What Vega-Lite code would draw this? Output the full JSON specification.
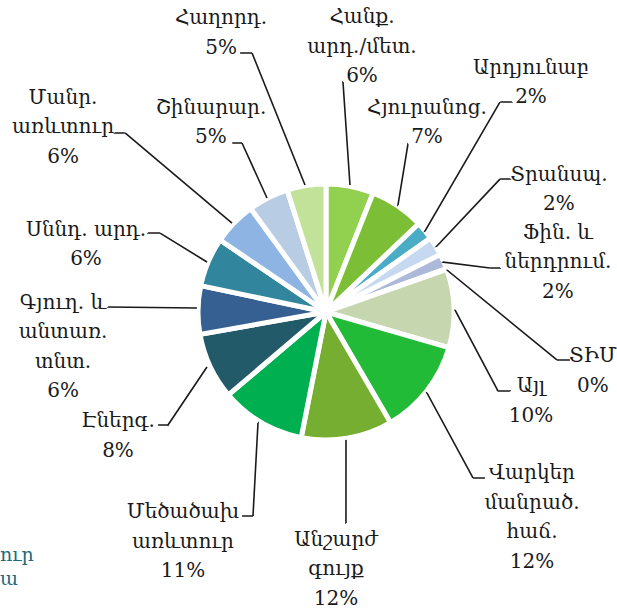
{
  "$schema": "https://vega.github.io/schema/vega-lite/v6.json",
  "width": 582,
  "height": 594,
  "autosize": {"type": "none"},
  "padding": {"left": 35, "top": 15, "right": 0, "bottom": 0},
  "background": "#ffffff",
  "title": {"text": ["ուր", "ա"], "orient": "bottom", "anchor": "start", "frame": "group", "align": "left", "baseline": "alphabetic", "offset": 0, "dx": -35, "dy": -48, "color": "#226a7b", "font": "DejaVu Serif", "fontSize": 19, "fontWeight": "normal", "lineHeight": 24},
  "config": {
    "view": {"stroke": null},
    "text": {"font": "DejaVu Serif", "fontSize": 20, "align": "center", "baseline": "alphabetic", "lineBreak": "\n", "lineHeight": 29.5, "fill": "#1a1a1a"}
  },
  "data": {
    "values": [
      {"k": 1, "cat": "Հանք. արդ./մետ.", "label": "Հանք.\nարդ./մետ.\n6%", "value": 6.0},
      {"k": 2, "cat": "Հյուրանոց.", "label": "Հյուրանոց.\n7%", "value": 6.9},
      {"k": 3, "cat": "Արդյունաբ", "label": "Արդյունաբ\n2%", "value": 2.3},
      {"k": 4, "cat": "Տրանսպ.", "label": "Տրանսպ.\n2%", "value": 2.4},
      {"k": 5, "cat": "Ֆին. և ներդրում.", "label": "Ֆին. և\nներդրում.\n2%", "value": 1.9},
      {"k": 6, "cat": "ՏԻՄ", "label": "ՏԻՄ\n0%", "value": 0.1},
      {"k": 7, "cat": "Այլ", "label": "Այլ\n10%", "value": 9.9},
      {"k": 8, "cat": "Վարկեր մանրած. հաճ.", "label": "Վարկեր\nմանրած.\nհաճ.\n12%", "value": 12.1},
      {"k": 9, "cat": "Անշարժ գույք", "label": "Անշարժ\nգույք\n12%", "value": 11.5},
      {"k": 10, "cat": "Մեծածախ առևտուր", "label": "Մեծածախ\nառևտուր\n11%", "value": 10.7},
      {"k": 11, "cat": "Էներգ.", "label": "Էներգ.\n8%", "value": 8.4},
      {"k": 12, "cat": "Գյուղ. և անտառ. տնտ.", "label": "Գյուղ. և\nանտառ.\nտնտ.\n6%", "value": 6.1},
      {"k": 13, "cat": "Սննդ. արդ.", "label": "Սննդ. արդ.\n6%", "value": 6.2},
      {"k": 14, "cat": "Մանր. առևտուր", "label": "Մանր.\nառևտուր\n6%", "value": 5.5},
      {"k": 15, "cat": "Շինարար.", "label": "Շինարար.\n5%", "value": 5.1},
      {"k": 16, "cat": "Հաղորդ.", "label": "Հաղորդ.\n5%", "value": 4.9}
    ]
  },
  "transform": [
    {"stack": "value", "groupby": [], "sort": [{"field": "k", "order": "ascending"}], "as": ["v0", "v1"]}
  ],
  "layer": [
    {
      "mark": {"type": "arc", "radius": 128, "stroke": "#ffffff", "strokeWidth": 5},
      "encoding": {
        "theta": {"field": "v0", "type": "quantitative", "stack": null, "scale": {"domain": [0, 100]}},
        "theta2": {"field": "v1"},
        "color": {
          "field": "cat", "type": "nominal", "legend": null,
          "scale": {
            "domain": ["Հանք. արդ./մետ.", "Հյուրանոց.", "Արդյունաբ", "Տրանսպ.", "Ֆին. և ներդրում.", "ՏԻՄ", "Այլ", "Վարկեր մանրած. հաճ.", "Անշարժ գույք", "Մեծածախ առևտուր", "Էներգ.", "Գյուղ. և անտառ. տնտ.", "Սննդ. արդ.", "Մանր. առևտուր", "Շինարար.", "Հաղորդ."],
            "range": ["#92d050", "#7dbe37", "#4bacc6", "#c6d9f1", "#adb9d9", "#8db3e2", "#c6d7b0", "#22bb38", "#76ae31", "#00b050", "#235a69", "#366092", "#31859c", "#8db4e2", "#b8cce4", "#c2e29a"]
          }
        }
      }
    },
    {
      "transform": [{"filter": {"field": "k", "equal": 1}}],
      "layer": [
        {"mark": {"type": "arc", "radius": 230.6, "radius2": 129.2, "thetaOffset": 0.8945, "theta2Offset": -0.5210, "padAngle": 1.0214, "filled": false, "stroke": "#1a1a1a", "strokeWidth": 1.6, "strokeDash": [0, 52.08, 103.2, 4000]},
         "encoding": {"theta": {"field": "v0", "type": "quantitative", "stack": null}, "theta2": {"field": "v0"}}},
        {"mark": {"type": "text", "radius": 291.2, "thetaOffset": 0.1239},
         "encoding": {"theta": {"field": "v0", "type": "quantitative", "stack": null}, "text": {"field": "label"}}}
      ]
    },
    {
      "transform": [{"filter": {"field": "k", "equal": 2}}],
      "layer": [
        {"mark": {"type": "arc", "radius": 186.9, "radius2": 129.0, "thetaOffset": 1.1154, "theta2Offset": -0.6847, "padAngle": 1.2081, "filled": false, "stroke": "#1a1a1a", "strokeWidth": 1.6, "strokeDash": [0, 51.67, 61.8, 4000]},
         "encoding": {"theta": {"field": "v0", "type": "quantitative", "stack": null}, "theta2": {"field": "v0"}}},
        {"mark": {"type": "text", "radius": 222.7, "thetaOffset": 0.0937},
         "encoding": {"theta": {"field": "v0", "type": "quantitative", "stack": null}, "text": {"field": "label"}}}
      ]
    },
    {
      "transform": [{"filter": {"field": "k", "equal": 3}}],
      "layer": [
        {"mark": {"type": "arc", "radius": 272.7, "radius2": 127.9, "thetaOffset": 0.7559, "theta2Offset": -0.6068, "padAngle": 0.8772, "filled": false, "stroke": "#1a1a1a", "strokeWidth": 1.6, "strokeDash": [0, 105.38, 149.2, 4000]},
         "encoding": {"theta": {"field": "v0", "type": "quantitative", "stack": null}, "theta2": {"field": "v0"}}},
        {"mark": {"type": "arc", "radius": 279.9, "radius2": 272.7, "thetaOffset": -1.4926, "theta2Offset": 1.2552, "padAngle": 1.5446, "filled": false, "stroke": "#1a1a1a", "strokeWidth": 1.6, "strokeDash": [0, 17.0, 11, 4000]},
         "encoding": {"theta": {"field": "v0", "type": "quantitative", "stack": null}, "theta2": {"field": "v0"}}},
        {"mark": {"type": "text", "radius": 314.5, "thetaOffset": -0.1005},
         "encoding": {"theta": {"field": "v0", "type": "quantitative", "stack": null}, "text": {"field": "label"}}}
      ]
    },
    {
      "transform": [{"filter": {"field": "k", "equal": 4}}],
      "layer": [
        {"mark": {"type": "arc", "radius": 219.0, "radius2": 129.1, "thetaOffset": 0.8257, "theta2Offset": -0.6672, "padAngle": 1.0654, "filled": false, "stroke": "#1a1a1a", "strokeWidth": 1.6, "strokeDash": [0, 50.84, 92.0, 4000]},
         "encoding": {"theta": {"field": "v0", "type": "quantitative", "stack": null}, "theta2": {"field": "v0"}}},
        {"mark": {"type": "arc", "radius": 227.0, "radius2": 219.0, "thetaOffset": -1.3680, "theta2Offset": 1.2943, "padAngle": 1.5348, "filled": false, "stroke": "#1a1a1a", "strokeWidth": 1.6, "strokeDash": [0, 12.12, 10, 4000]},
         "encoding": {"theta": {"field": "v0", "type": "quantitative", "stack": null}, "theta2": {"field": "v0"}}},
        {"mark": {"type": "text", "radius": 267.5, "thetaOffset": 0.1019},
         "encoding": {"theta": {"field": "v0", "type": "quantitative", "stack": null}, "text": {"field": "label"}}}
      ]
    },
    {
      "transform": [{"filter": {"field": "k", "equal": 5}}],
      "layer": [
        {"mark": {"type": "arc", "radius": 169.8, "radius2": 127.2, "thetaOffset": -0.9273, "theta2Offset": 1.0495, "padAngle": 1.2860, "filled": false, "stroke": "#1a1a1a", "strokeWidth": 1.6, "strokeDash": [0, 48.13, 47.4, 4000]},
         "encoding": {"theta": {"field": "v0", "type": "quantitative", "stack": null}, "theta2": {"field": "v0"}}},
        {"mark": {"type": "arc", "radius": 179.5, "radius2": 169.8, "thetaOffset": -1.0523, "theta2Offset": 1.4579, "padAngle": 1.5153, "filled": false, "stroke": "#1a1a1a", "strokeWidth": 1.6, "strokeDash": [0, 5.20, 10, 4000]},
         "encoding": {"theta": {"field": "v0", "type": "quantitative", "stack": null}, "theta2": {"field": "v0"}}},
        {"mark": {"type": "text", "radius": 243.2, "thetaOffset": 0.1600},
         "encoding": {"theta": {"field": "v0", "type": "quantitative", "stack": null}, "text": {"field": "label"}}}
      ]
    },
    {
      "transform": [{"filter": {"field": "k", "equal": 6}}],
      "layer": [
        {"mark": {"type": "arc", "radius": 235.9, "radius2": 128.1, "thetaOffset": -1.1015, "theta2Offset": 1.1245, "padAngle": 0.9948, "filled": false, "stroke": "#1a1a1a", "strokeWidth": 1.6, "strokeDash": [0, 254.28, 142.1, 4000]},
         "encoding": {"theta": {"field": "v0", "type": "quantitative", "stack": null}, "theta2": {"field": "v0"}}},
        {"mark": {"type": "arc", "radius": 248.7, "radius2": 235.9, "thetaOffset": 1.8097, "theta2Offset": -0.7088, "padAngle": 1.5181, "filled": false, "stroke": "#1a1a1a", "strokeWidth": 1.6, "strokeDash": [0, 5.30, 13, 4000]},
         "encoding": {"theta": {"field": "v0", "type": "quantitative", "stack": null}, "theta2": {"field": "v0"}}},
        {"mark": {"type": "text", "radius": 271.7, "thetaOffset": 0.5325},
         "encoding": {"theta": {"field": "v0", "type": "quantitative", "stack": null}, "text": {"field": "label"}}}
      ]
    },
    {
      "transform": [{"filter": {"field": "k", "equal": 7}}],
      "layer": [
        {"mark": {"type": "arc", "radius": 189.3, "radius2": 129.0, "thetaOffset": -0.8722, "theta2Offset": 1.5197, "padAngle": 1.1966, "filled": false, "stroke": "#1a1a1a", "strokeWidth": 1.6, "strokeDash": [0, 168.92, 91.7, 4000]},
         "encoding": {"theta": {"field": "v0", "type": "quantitative", "stack": null}, "theta2": {"field": "v0"}}},
        {"mark": {"type": "arc", "radius": 200.2, "radius2": 189.3, "thetaOffset": 2.0342, "theta2Offset": -0.4945, "padAngle": 1.5149, "filled": false, "stroke": "#1a1a1a", "strokeWidth": 1.6, "strokeDash": [0, 9.99, 12, 4000]},
         "encoding": {"theta": {"field": "v0", "type": "quantitative", "stack": null}, "theta2": {"field": "v0"}}},
        {"mark": {"type": "text", "radius": 220.2, "thetaOffset": 0.7135},
         "encoding": {"theta": {"field": "v0", "type": "quantitative", "stack": null}, "text": {"field": "label"}}}
      ]
    },
    {
      "transform": [{"filter": {"field": "k", "equal": 8}}],
      "layer": [
        {"mark": {"type": "arc", "radius": 221.7, "radius2": 129.5, "thetaOffset": -0.4006, "theta2Offset": 1.1870, "padAngle": 1.0573, "filled": false, "stroke": "#1a1a1a", "strokeWidth": 1.6, "strokeDash": [0, 75.38, 96.6, 4000]},
         "encoding": {"theta": {"field": "v0", "type": "quantitative", "stack": null}, "theta2": {"field": "v0"}}},
        {"mark": {"type": "arc", "radius": 229.9, "radius2": 221.7, "thetaOffset": 1.9050, "theta2Offset": -0.7786, "padAngle": 1.5345, "filled": false, "stroke": "#1a1a1a", "strokeWidth": 1.6, "strokeDash": [0, 17.90, 12, 4000]},
         "encoding": {"theta": {"field": "v0", "type": "quantitative", "stack": null}, "theta2": {"field": "v0"}}},
        {"mark": {"type": "text", "radius": 265.5, "thetaOffset": 0.3999},
         "encoding": {"theta": {"field": "v0", "type": "quantitative", "stack": null}, "text": {"field": "label"}}}
      ]
    },
    {
      "transform": [{"filter": {"field": "k", "equal": 9}}],
      "layer": [
        {"mark": {"type": "arc", "radius": 211.9, "radius2": 129.6, "thetaOffset": -0.3459, "theta2Offset": 1.0915, "padAngle": 1.0978, "filled": false, "stroke": "#1a1a1a", "strokeWidth": 1.6, "strokeDash": [0, 25.67, 83, 4000]},
         "encoding": {"theta": {"field": "v0", "type": "quantitative", "stack": null}, "theta2": {"field": "v0"}}},
        {"mark": {"type": "text", "radius": 234.2, "thetaOffset": 0.4850},
         "encoding": {"theta": {"field": "v0", "type": "quantitative", "stack": null}, "text": {"field": "label"}}}
      ]
    },
    {
      "transform": [{"filter": {"field": "k", "equal": 10}}],
      "layer": [
        {"mark": {"type": "arc", "radius": 216.7, "radius2": 130.2, "thetaOffset": 1.2053, "theta2Offset": -0.4957, "padAngle": 1.0821, "filled": false, "stroke": "#1a1a1a", "strokeWidth": 1.6, "strokeDash": [0, 89.26, 93.1, 4000]},
         "encoding": {"theta": {"field": "v0", "type": "quantitative", "stack": null}, "theta2": {"field": "v0"}}},
        {"mark": {"type": "arc", "radius": 220.6, "radius2": 216.7, "thetaOffset": -1.2805, "theta2Offset": 1.5783, "padAngle": 1.5530, "filled": false, "stroke": "#1a1a1a", "strokeWidth": 1.6, "strokeDash": [0, 20.71, 11, 4000]},
         "encoding": {"theta": {"field": "v0", "type": "quantitative", "stack": null}, "theta2": {"field": "v0"}}},
        {"mark": {"type": "text", "radius": 250.8, "thetaOffset": 0.4121},
         "encoding": {"theta": {"field": "v0", "type": "quantitative", "stack": null}, "text": {"field": "label"}}}
      ]
    },
    {
      "transform": [{"filter": {"field": "k", "equal": 11}}],
      "layer": [
        {"mark": {"type": "arc", "radius": 194.3, "radius2": 131.1, "thetaOffset": 1.1990, "theta2Offset": -0.6576, "padAngle": 1.1868, "filled": false, "stroke": "#1a1a1a", "strokeWidth": 1.6, "strokeDash": [0, 72.98, 69.9, 4000]},
         "encoding": {"theta": {"field": "v0", "type": "quantitative", "stack": null}, "theta2": {"field": "v0"}}},
        {"mark": {"type": "arc", "radius": 202.5, "radius2": 194.3, "thetaOffset": -1.2310, "theta2Offset": 1.3968, "padAngle": 1.5296, "filled": false, "stroke": "#1a1a1a", "strokeWidth": 1.6, "strokeDash": [0, 11.59, 10, 4000]},
         "encoding": {"theta": {"field": "v0", "type": "quantitative", "stack": null}, "theta2": {"field": "v0"}}},
        {"mark": {"type": "text", "radius": 237.9, "thetaOffset": 0.1969},
         "encoding": {"theta": {"field": "v0", "type": "quantitative", "stack": null}, "text": {"field": "label"}}}
      ]
    },
    {
      "transform": [{"filter": {"field": "k", "equal": 12}}],
      "layer": [
        {"mark": {"type": "arc", "radius": 218.1, "radius2": 129.1, "thetaOffset": 0.8486, "theta2Offset": -0.4346, "padAngle": 1.0688, "filled": false, "stroke": "#1a1a1a", "strokeWidth": 1.6, "strokeDash": [0, 3.58, 89.0, 4000]},
         "encoding": {"theta": {"field": "v0", "type": "quantitative", "stack": null}, "theta2": {"field": "v0"}}},
        {"mark": {"type": "text", "radius": 263.0, "thetaOffset": 0.1892},
         "encoding": {"theta": {"field": "v0", "type": "quantitative", "stack": null}, "text": {"field": "label"}}}
      ]
    },
    {
      "transform": [{"filter": {"field": "k", "equal": 13}}],
      "layer": [
        {"mark": {"type": "arc", "radius": 183.8, "radius2": 129.1, "thetaOffset": -0.6346, "theta2Offset": 1.0154, "padAngle": 1.2249, "filled": false, "stroke": "#1a1a1a", "strokeWidth": 1.6, "strokeDash": [0, 17.00, 55.2, 4000]},
         "encoding": {"theta": {"field": "v0", "type": "quantitative", "stack": null}, "theta2": {"field": "v0"}}},
        {"mark": {"type": "arc", "radius": 194.7, "radius2": 183.8, "thetaOffset": 1.4977, "theta2Offset": -1.0243, "padAngle": 1.5132, "filled": false, "stroke": "#1a1a1a", "strokeWidth": 1.6, "strokeDash": [0, 10.26, 12, 4000]},
         "encoding": {"theta": {"field": "v0", "type": "quantitative", "stack": null}, "theta2": {"field": "v0"}}},
        {"mark": {"type": "text", "radius": 251.9, "thetaOffset": 0.1012},
         "encoding": {"theta": {"field": "v0", "type": "quantitative", "stack": null}, "text": {"field": "label"}}}
      ]
    },
    {
      "transform": [{"filter": {"field": "k", "equal": 14}}],
      "layer": [
        {"mark": {"type": "arc", "radius": 269.2, "radius2": 129.4, "thetaOffset": 0.6929, "theta2Offset": -0.3707, "padAngle": 0.8964, "filled": false, "stroke": "#1a1a1a", "strokeWidth": 1.6, "strokeDash": [0, 16.35, 139.8, 4000]},
         "encoding": {"theta": {"field": "v0", "type": "quantitative", "stack": null}, "theta2": {"field": "v0"}}},
        {"mark": {"type": "arc", "radius": 276.7, "radius2": 269.2, "thetaOffset": 1.4923, "theta2Offset": -1.2308, "padAngle": 1.5432, "filled": false, "stroke": "#1a1a1a", "strokeWidth": 1.6, "strokeDash": [0, 13.33, 10, 4000]},
         "encoding": {"theta": {"field": "v0", "type": "quantitative", "stack": null}, "theta2": {"field": "v0"}}},
        {"mark": {"type": "text", "radius": 335.3, "thetaOffset": 0.0723},
         "encoding": {"theta": {"field": "v0", "type": "quantitative", "stack": null}, "text": {"field": "label"}}}
      ]
    },
    {
      "transform": [{"filter": {"field": "k", "equal": 15}}],
      "layer": [
        {"mark": {"type": "arc", "radius": 188.7, "radius2": 128.4, "thetaOffset": -0.6137, "theta2Offset": 0.9153, "padAngle": 1.1948, "filled": false, "stroke": "#1a1a1a", "strokeWidth": 1.6, "strokeDash": [0, 6.13, 60.4, 4000]},
         "encoding": {"theta": {"field": "v0", "type": "quantitative", "stack": null}, "theta2": {"field": "v0"}}},
        {"mark": {"type": "arc", "radius": 193.4, "radius2": 188.7, "thetaOffset": 1.5633, "theta2Offset": -1.2292, "padAngle": 1.5464, "filled": false, "stroke": "#1a1a1a", "strokeWidth": 1.6, "strokeDash": [0, 17.96, 10, 4000]},
         "encoding": {"theta": {"field": "v0", "type": "quantitative", "stack": null}, "theta2": {"field": "v0"}}},
        {"mark": {"type": "text", "radius": 229.4, "thetaOffset": 0.1031},
         "encoding": {"theta": {"field": "v0", "type": "quantitative", "stack": null}, "text": {"field": "label"}}}
      ]
    },
    {
      "transform": [{"filter": {"field": "k", "equal": 16}}],
      "layer": [
        {"mark": {"type": "arc", "radius": 269.4, "radius2": 128.7, "thetaOffset": 0.7564, "theta2Offset": -0.4684, "padAngle": 0.8912, "filled": false, "stroke": "#1a1a1a", "strokeWidth": 1.6, "strokeDash": [0, 61.69, 142.2, 4000]},
         "encoding": {"theta": {"field": "v0", "type": "quantitative", "stack": null}, "theta2": {"field": "v0"}}},
        {"mark": {"type": "arc", "radius": 272.9, "radius2": 269.4, "thetaOffset": 1.4821, "theta2Offset": -1.4231, "padAngle": 1.5579, "filled": false, "stroke": "#1a1a1a", "strokeWidth": 1.6, "strokeDash": [0, 23.05, 12, 4000]},
         "encoding": {"theta": {"field": "v0", "type": "quantitative", "stack": null}, "theta2": {"field": "v0"}}},
        {"mark": {"type": "text", "radius": 306.1, "thetaOffset": -0.0422},
         "encoding": {"theta": {"field": "v0", "type": "quantitative", "stack": null}, "text": {"field": "label"}}}
      ]
    }
  ]
}
